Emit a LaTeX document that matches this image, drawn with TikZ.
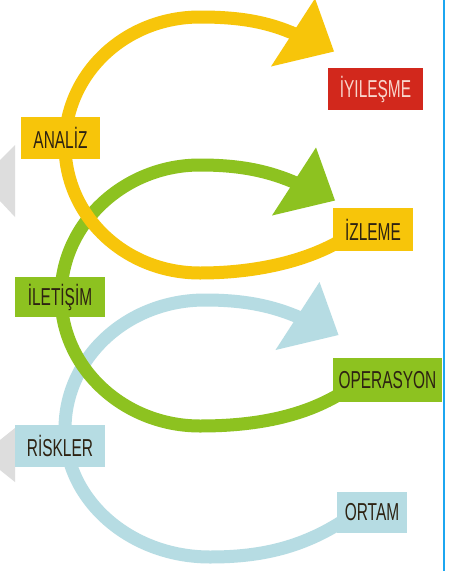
\documentclass[tikz,border=0pt]{standalone}
\usepackage{fontspec}
\newfontfamily\boxfont[FakeStretch=0.63]{Liberation Sans}
\usepackage{xcolor}
\usepackage{tikz}
\pgfdeclarelayer{back}
\pgfsetlayers{back,main}

\definecolor{yel}{RGB}{247,197,10}
\definecolor{grn}{RGB}{141,194,32}
\definecolor{lblue}{RGB}{182,220,227}
\definecolor{rd}{RGB}{210,40,28}
\definecolor{edgeblue}{RGB}{28,166,240}
\definecolor{lgray}{RGB}{221,221,221}
\definecolor{darktxt}{RGB}{45,34,18}
\definecolor{pinktxt}{RGB}{248,214,204}

\tikzset{
  lbl/.style={inner sep=0pt, minimum height=42pt, text=darktxt,
    font=\boxfont\fontsize{24.5}{26}\selectfont},
  band/.style={line width=13pt, line cap=butt}
}

\begin{document}
\begin{tikzpicture}[x=1pt,y=-1pt]
\useasboundingbox (0,0) rectangle (454,571);
\clip (0,0) rectangle (454,571);

\node[lbl, fill=rd, text=pinktxt, minimum width=95pt] (iyilesme) at (375.5,89) {İYILEŞME};
\node[lbl, fill=yel, minimum width=79pt] (analiz) at (60.5,138) {ANALİZ};
\node[lbl, fill=yel, minimum width=80pt, minimum height=43pt] (izleme) at (373,229.5) {İZLEME};
\node[lbl, fill=grn, minimum width=90pt, minimum height=40pt] (iletisim) at (60,297) {İLETİŞİM};
\node[lbl, fill=grn, minimum width=109pt, minimum height=44pt] (operasyon) at (387.5,380) {OPERASYON};
\node[lbl, fill=lblue, minimum width=90pt] (riskler) at (60,446) {RİSKLER};
\node[lbl, fill=lblue, minimum width=70pt, minimum height=41pt] (ortam) at (372,512.5) {ORTAM};

\coordinate (yhead) at (296,34.5);
\coordinate (ghead) at (297,183.5);
\coordinate (bhead) at (300.5,318);

\begin{pgfonlayer}{back}
  \fill[white] (0,0) rectangle (454,571);
  \fill[lgray] (0,160) -- (15,145) -- (15,217) -- (0,201) -- cycle;
  \fill[lgray] (0,440) -- (15,428) -- (15,482) -- (0,470) -- cycle;
  \draw[edgeblue, line width=2pt] (444,0) -- (444,571);

  \draw[band,lblue] ([xshift=10pt,yshift=-6pt]ortam.west) .. controls (300,550) and (255,557) .. (210,557)
    .. controls (130,557) and (65,500) .. (65,429)
    .. controls (65,358) and (127,300) .. (205,300)
    .. controls (245,300) and (273,306) .. (bhead);
  \fill[lblue] (bhead) ++(19,-36) -- ++(19,53) -- ++(-63,15) -- cycle;

  \draw[band,grn] ([xshift=12pt,yshift=-11pt]operasyon.west) .. controls (300,420) and (245,426) .. (200,426)
    .. controls (124,426) and (61,368) .. (61,296)
    .. controls (61,224) and (124,165) .. (200,165)
    .. controls (240,165) and (269,171) .. (ghead);
  \fill[grn] (ghead) ++(19,-36) -- ++(19,53) -- ++(-63,15) -- cycle;

  \draw[band,yel] ([xshift=10pt,yshift=-10pt]izleme.west) .. controls (300,265) and (245,273) .. (200,273)
    .. controls (125,273) and (65,216) .. (65,145)
    .. controls (65,74) and (125,17) .. (200,17)
    .. controls (240,17) and (268,22) .. (yhead);
  \fill[yel] (yhead) ++(19,-36) -- ++(19,53) -- ++(-63,15) -- cycle;
\end{pgfonlayer}
\end{tikzpicture}
\end{document}
